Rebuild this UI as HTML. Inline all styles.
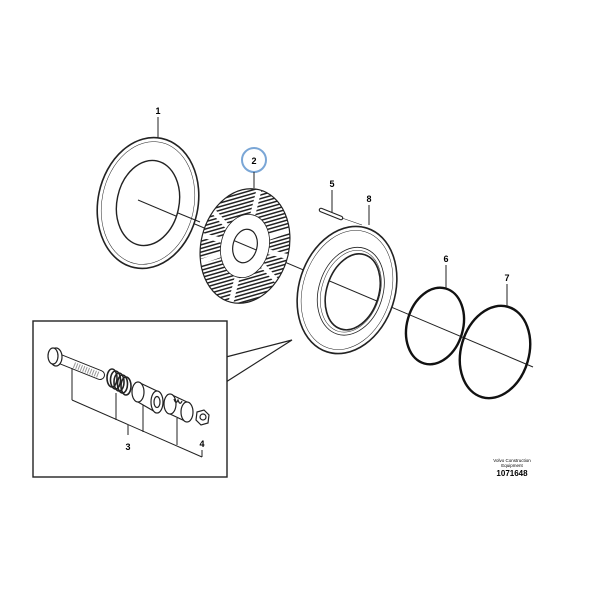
<!DOCTYPE html>
<html><head><style>html,body{margin:0;padding:0;background:#fff}svg{display:block}</style></head>
<body>
<svg width="600" height="600" viewBox="0 0 600 600" xmlns="http://www.w3.org/2000/svg" font-family="Liberation Sans, sans-serif">
<defs>
<pattern id="hatch" width="3.5" height="3.5" patternUnits="userSpaceOnUse" patternTransform="rotate(60)">
<rect width="3.5" height="3.5" fill="#fff"/><rect width="1.5" height="3.5" fill="#222"/>
</pattern>
<clipPath id="annulus"><path clip-rule="evenodd" d="M-44,0a44,58 0 1,0 88,0a44,58 0 1,0 -88,0Z M-24,0a24,32 0 1,0 48,0a24,32 0 1,0 -48,0Z"/></clipPath>
</defs>
<rect width="600" height="600" fill="#fff"/>

<!-- axis line -->
<line x1="138" y1="200" x2="533" y2="367" stroke="#222" stroke-width="1"/>

<!-- plate 1 -->
<g transform="translate(148,203) rotate(12)" stroke="#222">
<path fill="#fff" fill-rule="evenodd" d="M-50,0a50,66 0 1,0 100,0a50,66 0 1,0 -100,0Z M-31,0a31,43 0 1,0 62,0a31,43 0 1,0 -62,0Z" stroke="none"/>
<ellipse rx="50" ry="66" fill="none" stroke-width="1.6"/>
<ellipse rx="46" ry="62" fill="none" stroke-width="0.5"/>
<ellipse rx="31" ry="43" fill="none" stroke-width="1.4"/>
</g>
<line x1="178" y1="213" x2="200" y2="222" stroke="#222" stroke-width="1"/>
<text x="158" y="114" font-size="9" font-weight="bold" text-anchor="middle">1</text>
<line x1="158" y1="117" x2="158" y2="137" stroke="#222"/>

<!-- disc 2 -->
<g transform="translate(245,246) rotate(14)">
<path fill="#fff" fill-rule="evenodd" d="M-44,0a44,58 0 1,0 88,0a44,58 0 1,0 -88,0Z M-12,0a12,17 0 1,0 24,0a12,17 0 1,0 -24,0Z"/>
<g clip-path="url(#annulus)">
<rect x="-50" y="-65" width="100" height="130" fill="url(#hatch)"/>
<g stroke="#fff" stroke-width="5">
<line x1="0" y1="0" x2="0" y2="-70"/><line x1="0" y1="0" x2="0" y2="70"/>
<line x1="0" y1="0" x2="60" y2="-40"/><line x1="0" y1="0" x2="-60" y2="40"/>
<line x1="0" y1="0" x2="60" y2="40"/><line x1="0" y1="0" x2="-60" y2="-40"/>
<line x1="0" y1="0" x2="-70" y2="0"/><line x1="0" y1="0" x2="70" y2="0"/>
</g>
</g>
<ellipse rx="44" ry="58" fill="none" stroke="#222" stroke-width="1.2"/>
<ellipse rx="24" ry="32" fill="none" stroke="#222" stroke-width="0.8"/>
<ellipse rx="12" ry="17" fill="none" stroke="#222" stroke-width="1.2"/>
</g>
<circle cx="254" cy="160" r="12" fill="none" stroke="#7aa6d6" stroke-width="2"/>
<text x="254" y="164" font-size="9" font-weight="bold" text-anchor="middle">2</text>
<line x1="254" y1="172" x2="254" y2="188" stroke="#222"/>

<!-- plate 8 -->
<g transform="translate(347,290) rotate(18)" stroke="#222">
<path fill="#fff" fill-rule="evenodd" stroke="none" d="M-48,0a48,65 0 1,0 96,0a48,65 0 1,0 -96,0Z M-20,0a26,39 0 1,0 52,0a26,39 0 1,0 -52,0Z"/>
<ellipse rx="48" ry="65" fill="none" stroke-width="1.6"/>
<ellipse rx="44" ry="61" fill="none" stroke-width="0.5"/>
<ellipse cx="4" rx="32" ry="45" fill="none" stroke-width="0.8"/>
<ellipse cx="4" rx="29" ry="42" fill="none" stroke-width="0.5"/>
<ellipse cx="6" rx="26" ry="39" fill="none" stroke-width="1.6"/>
</g>
<text x="369" y="202" font-size="9" font-weight="bold" text-anchor="middle">8</text>
<line x1="369" y1="205" x2="369" y2="225" stroke="#222"/>
<!-- pin 5 -->
<line x1="342" y1="218" x2="362" y2="225" stroke="#222" stroke-width="0.6"/>
<line x1="321" y1="210" x2="341" y2="218" stroke="#222" stroke-width="4.5" stroke-linecap="round"/>
<line x1="321" y1="210" x2="341" y2="218" stroke="#fff" stroke-width="2.3" stroke-linecap="round"/>
<text x="332" y="187" font-size="9" font-weight="bold" text-anchor="middle">5</text>
<line x1="332" y1="190" x2="332" y2="212" stroke="#222"/>

<!-- rings 6 and 7 -->
<ellipse cx="435" cy="326" rx="28" ry="39" transform="rotate(16 435 326)" fill="none" stroke="#111" stroke-width="2.4"/>
<text x="446" y="262" font-size="9" font-weight="bold" text-anchor="middle">6</text>
<line x1="446" y1="265" x2="446" y2="288" stroke="#222"/>
<ellipse cx="495" cy="352" rx="34" ry="47" transform="rotate(16 495 352)" fill="none" stroke="#111" stroke-width="2.4"/>
<text x="507" y="281" font-size="9" font-weight="bold" text-anchor="middle">7</text>
<line x1="507" y1="284" x2="507" y2="306" stroke="#222"/>

<!-- inset box -->
<polygon points="226,357 292,340 226,382" fill="#fff" stroke="#222" stroke-width="1.2"/>
<rect x="33" y="321" width="194" height="156" fill="#fff" stroke="#222" stroke-width="1.4"/>
<!-- bolt -->
<g stroke="#222" fill="#fff">
<line x1="60" y1="359" x2="100" y2="375" stroke-width="10" stroke-linecap="round"/>
<line x1="60" y1="359" x2="100" y2="375" stroke="#fff" stroke-width="8" stroke-linecap="round"/>
<line x1="74" y1="365" x2="99" y2="375" stroke="#999" stroke-width="6" stroke-dasharray="1 1.5"/>
<ellipse cx="56" cy="357" rx="6" ry="9" stroke-width="1.2"/>
<ellipse cx="53" cy="356" rx="5" ry="8" stroke-width="1.2"/>
</g>
<!-- spring -->
<g fill="none" stroke="#222" stroke-width="1.6">
<ellipse cx="112" cy="378" rx="5" ry="9"/><ellipse cx="115.5" cy="380" rx="5" ry="9"/>
<ellipse cx="119" cy="382" rx="5" ry="9"/><ellipse cx="122.5" cy="384" rx="5" ry="9"/>
<ellipse cx="126" cy="386" rx="5" ry="9"/>
</g>
<!-- sleeve -->
<g stroke="#222" stroke-width="1.2" fill="#fff">
<path d="M138,382 L157,391 L157,413 L138,402 Z" stroke="none"/>
<line x1="138" y1="382" x2="157" y2="391"/><line x1="138" y1="402" x2="157" y2="413"/>
<ellipse cx="138" cy="392" rx="6" ry="10"/>
<ellipse cx="157" cy="402" rx="6" ry="11"/><ellipse cx="157" cy="402" rx="3" ry="5.5"/>
</g>
<!-- slotted sleeve -->
<g stroke="#222" stroke-width="1.2" fill="#fff">
<path d="M170,394 L187,402 L187,422 L170,414 Z" stroke="none"/>
<line x1="170" y1="394" x2="187" y2="402"/><line x1="170" y1="414" x2="187" y2="422"/>
<ellipse cx="187" cy="412" rx="6" ry="10"/>
<ellipse cx="170" cy="404" rx="6" ry="10"/>
<path d="M174,399 q2,6 4,1 q2,6 4,1" fill="none"/>
</g>
<!-- nut -->
<g stroke="#222" stroke-width="1.2" fill="#fff">
<polygon points="197,412 204,410 209,415 208,423 201,425 196,420"/>
<circle cx="203" cy="417" r="3"/>
</g>
<!-- brackets -->
<g stroke="#222" stroke-width="1" fill="none">
<line x1="72" y1="368" x2="72" y2="400"/>
<line x1="116" y1="393" x2="116" y2="420"/>
<line x1="143" y1="405" x2="143" y2="432"/>
<line x1="177" y1="418" x2="177" y2="445"/>
<line x1="202" y1="450" x2="202" y2="457"/>
<polyline points="72,400 202,457"/>
<line x1="128" y1="425" x2="128" y2="435"/>
</g>
<text x="128" y="450" font-size="9" font-weight="bold" text-anchor="middle">3</text>
<text x="202" y="447" font-size="9" font-weight="bold" text-anchor="middle">4</text>

<!-- footer -->
<text x="512" y="462" font-size="4.5" text-anchor="middle">Volvo Construction</text>
<text x="512" y="467" font-size="4.5" text-anchor="middle">Equipment</text>
<text x="512" y="476" font-size="8" font-weight="bold" text-anchor="middle">1071648</text>
</svg>
</body></html>
